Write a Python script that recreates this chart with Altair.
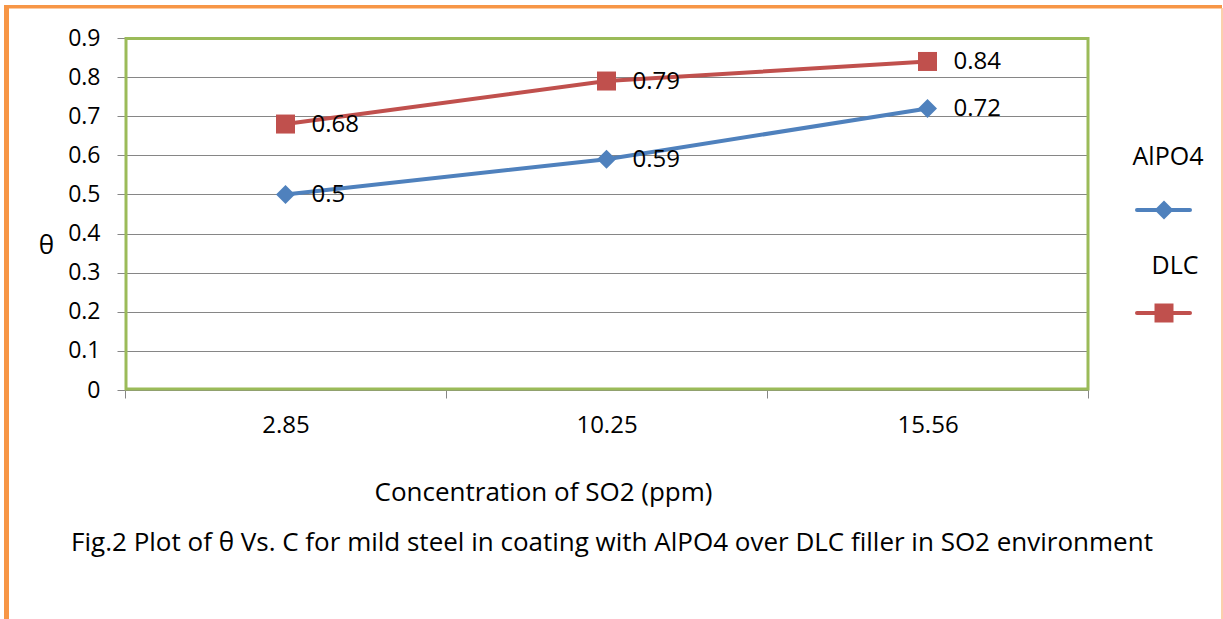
import altair as alt
import pandas as pd

# Surface coverage (theta) against SO2 concentration for two coatings
concentration = ["2.85", "10.25", "15.56"]
series_names = ["AlPO4", "DLC"]
alpo4_theta = [0.50, 0.59, 0.72]
dlc_theta = [0.68, 0.79, 0.84]
series_colors = ["#4F81BD", "#C0504D"]
series_shapes = ["diamond", "square"]
y_ticks = [0, 0.1, 0.2, 0.3, 0.4, 0.5, 0.6, 0.7, 0.8, 0.9]

x_title = "Concentration of SO2 (ppm)"
y_title = "θ"
caption = "Fig.2 Plot of θ Vs. C for mild steel in coating with AlPO4 over DLC filler in SO2 environment"

FONT = "Open Sans"
GRID = "#868686"
FRAME = "#9BBB59"
ORANGE = "#F79646"

# page geometry: plot area placed inside a fixed 1223x619 canvas
PAGE_W, PAGE_H = 1223, 619
L, T, W, H = 125, 38, 963, 352

rows = []
for name, vals in zip(series_names, [alpo4_theta, dlc_theta]):
    for c, v in zip(concentration, vals):
        rows.append({"series": name, "conc": c, "theta": v})
df = pd.DataFrame(rows)

color_scale = alt.Scale(domain=series_names, range=series_colors)
shape_scale = alt.Scale(domain=series_names, range=series_shapes)

base = alt.Chart(df).encode(
    x=alt.X(
        "conc:N",
        sort=concentration,
        scale=alt.Scale(paddingInner=0, paddingOuter=0),
        axis=alt.Axis(
            title=x_title,
            titleFont=FONT,
            titleFontSize=26,
            titleFontWeight="normal",
            titleColor="black",
            titleX=543 - L,
            titleY=492 - (T + H),
            titleAlign="center",
            titleBaseline="middle",
            labelAngle=0,
            labelFont=FONT,
            labelFontSize=24,
            labelColor="black",
            labelPadding=15,
            tickBand="extent",
            tickSize=8,
            tickColor=GRID,
            domainColor=GRID,
            grid=False,
        ),
    ),
    y=alt.Y(
        "theta:Q",
        scale=alt.Scale(domain=[0, 0.9], nice=False, zero=True),
        axis=alt.Axis(
            values=y_ticks,
            format="~g",
            title=y_title,
            titleFont=FONT,
            titleFontSize=26,
            titleFontWeight="normal",
            titleColor="black",
            titleAngle=0,
            titleX=46 - L,
            titleY=245 - T,
            titleAlign="center",
            titleBaseline="middle",
            labelFont=FONT,
            labelFontSize=23,
            labelColor="black",
            labelPadding=17,
            tickSize=8,
            tickColor=GRID,
            domainColor=GRID,
            grid=True,
            gridColor=GRID,
            gridWidth=1,
        ),
    ),
    color=alt.Color("series:N", scale=color_scale, legend=None),
)

lines = base.mark_line(strokeWidth=4)
points = base.mark_point(filled=True, opacity=1, size=361).encode(
    shape=alt.Shape("series:N", scale=shape_scale, legend=None)
)
value_labels = base.mark_text(
    align="left", baseline="middle", dx=26, dy=1, font=FONT, fontSize=24
).encode(text=alt.Text("theta:Q", format=".2~f"), color=alt.value("black"))

one = alt.Data(values=[{}])

# green frame around the plotting area
frame = alt.Chart(one).mark_rect(filled=False, stroke=FRAME, strokeWidth=3).encode(
    x=alt.value(1), x2=alt.value(W), y=alt.value(0.5), y2=alt.value(H - 1)
)

# orange page border (left, top, right)
border_left = alt.Chart(one).mark_rule(color=ORANGE, strokeWidth=5).encode(
    x=alt.value(6.5 - L), y=alt.value(5 - T), y2=alt.value(PAGE_H - T)
)
border_top = alt.Chart(one).mark_rule(color=ORANGE, strokeWidth=3.5).encode(
    x=alt.value(4 - L), x2=alt.value(1222 - L), y=alt.value(6.8 - T)
)
border_right = alt.Chart(one).mark_rule(color="#FAC090", strokeWidth=1.5).encode(
    x=alt.value(1222 - L), y=alt.value(8 - T), y2=alt.value(PAGE_H - T)
)

# hand-placed legend: name above a short line with its marker
legend_layers = []
legend_pos = [(1168, 157, 210), (1175, 266, 313)]
for name, col, shp, (tx, ty, ly) in zip(series_names, series_colors, series_shapes, legend_pos):
    legend_layers.append(
        alt.Chart(one).mark_text(font=FONT, fontSize=25, color="black", align="center", baseline="middle").encode(
            x=alt.value(tx - L), y=alt.value(ty - T), text=alt.value(name)
        )
    )
    legend_layers.append(
        alt.Chart(one).mark_rule(color=col, strokeWidth=4, strokeCap="round").encode(
            x=alt.value(1137 - L), x2=alt.value(1190 - L), y=alt.value(ly - T)
        )
    )
    legend_layers.append(
        alt.Chart(one).mark_point(filled=True, opacity=1, size=361, color=col, shape=shp).encode(
            x=alt.value(1164 - L), y=alt.value(ly - T)
        )
    )

caption_text = alt.Chart(one).mark_text(
    font=FONT, fontSize=26, color="black", align="center", baseline="middle"
).encode(x=alt.value(612 - L), y=alt.value(543 - T), text=alt.value(caption))

chart = alt.layer(
    lines, points, value_labels, frame,
    border_left, border_top, border_right,
    *legend_layers, caption_text,
).properties(
    width=W,
    height=H,
    padding={"left": L, "top": T, "right": PAGE_W - L - W, "bottom": PAGE_H - T - H},
    autosize=alt.AutoSizeParams(type="none"),
    background="white",
).configure_view(stroke=None)

chart.save("out.html", embed_options={"renderer": "svg", "actions": False})
